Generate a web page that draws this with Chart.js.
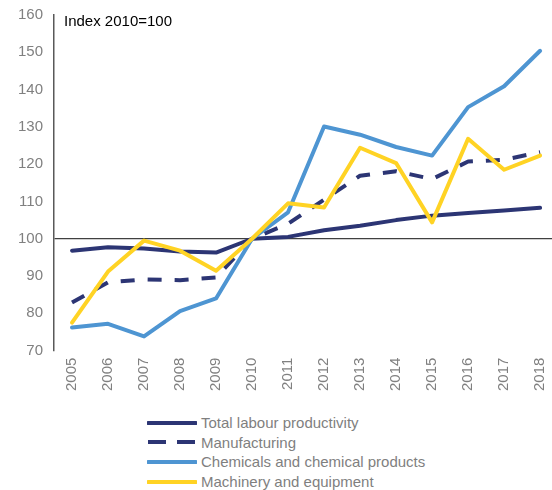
<!DOCTYPE html>
<html>
<head>
<meta charset="utf-8">
<script src="https://cdn.jsdelivr.net/npm/chart.js@4.4.0/dist/chart.umd.min.js"></script>
<style>
    body { margin: 0; background: #fff; font-family: "Liberation Sans", Arial, sans-serif; }
    #wrap { position: relative; width: 552px; height: 490px; }
    #box { position: absolute; left: 0; top: 0; width: 552px; height: 398px; }
    #note { position: absolute; left: 64px; top: 12px; font-size: 15px; color: #000; }
    #legend { position: absolute; left: 147px; top: 413px; }
    .row { height: 19.6px; display: flex; align-items: center; font-size: 15px; color: #7f7f7f; white-space: nowrap; }
    .row svg { margin-right: 4px; }
</style>
</head>
<body>
<div id="wrap">
    <div id="box"><canvas id="chart"></canvas></div>
    <div id="note">Index 2010=100</div>
    <div id="legend"></div>
</div>
<script>
var years = [2005, 2006, 2007, 2008, 2009, 2010, 2011, 2012, 2013, 2014, 2015, 2016, 2017, 2018];
var totalLabour = [96.8, 97.7, 97.4, 96.6, 96.3, 100, 100.5, 102.3, 103.5, 105.0, 106.2, 106.9, 107.6, 108.3];
var manufacturing = [82.9, 88.3, 89.1, 88.9, 89.6, 100, 104.0, 110.5, 116.9, 118.1, 116.0, 120.7, 121.2, 123.2];
var chemicals = [76.2, 77.2, 73.8, 80.6, 84.0, 100, 107.1, 130.1, 127.9, 124.6, 122.3, 135.3, 140.9, 150.4];
var machinery = [77.5, 91.2, 99.5, 96.8, 91.4, 100, 109.5, 108.4, 124.4, 120.3, 104.4, 126.8, 118.5, 122.3];
var yMin = 70, yMax = 160, yStep = 10;

var toPoints = function (values) {
    return values.map(function (v, i) { return { x: years[i], y: v }; });
};

var series = [
    { label: 'Total labour productivity', data: totalLabour, color: '#2c3574', dash: [], order: 4 },
    { label: 'Manufacturing', data: manufacturing, color: '#2c3574', dash: [14, 13], order: 3 },
    { label: 'Chemicals and chemical products', data: chemicals, color: '#4e95d2', dash: [], order: 2 },
    { label: 'Machinery and equipment', data: machinery, color: '#ffd324', dash: [], order: 1 }
];

var datasets = series.map(function (s) {
    return {
        label: s.label,
        data: toPoints(s.data),
        borderColor: s.color,
        backgroundColor: s.color,
        borderWidth: 4,
        borderDash: s.dash,
        borderCapStyle: s.dash.length ? 'butt' : 'round',
        borderJoinStyle: 'round',
        pointRadius: 0,
        tension: 0,
        order: s.order
    };
});

var grey = '#808080';
var tickFont = { family: '"Liberation Sans", Arial, sans-serif', size: 15 };

new Chart(document.getElementById('chart'), {
    type: 'line',
    data: { datasets: datasets },
    options: {
        responsive: true,
        maintainAspectRatio: false,
        animation: false,
        layout: { padding: { left: 18, top: 15, right: 0, bottom: 0 } },
        plugins: { legend: { display: false }, tooltip: { enabled: false } },
        scales: {
            x: {
                type: 'linear',
                min: 2004.5,
                max: 2018.33,
                afterBuildTicks: function (scale) {
                    scale.ticks = years.map(function (y) { return { value: y }; });
                },
                afterFit: function (scale) {
                    scale.paddingLeft = 0;
                    scale.paddingRight = 0;
                },
                ticks: {
                    color: grey,
                    font: tickFont,
                    minRotation: 90,
                    maxRotation: 90,
                    padding: 7,
                    autoSkip: false,
                    callback: function (value) { return String(value); }
                },
                grid: { display: false, drawTicks: false },
                border: { display: false }
            },
            y: {
                min: yMin,
                max: yMax,
                afterFit: function (scale) {
                    scale.width = 36;
                    scale.paddingTop = 0;
                    scale.paddingBottom = 0;
                },
                ticks: { stepSize: yStep, color: grey, font: tickFont, padding: 11 },
                grid: {
                    drawTicks: false,
                    color: function (ctx) { return ctx.tick && ctx.tick.value === 100 ? '#404040' : 'rgba(0,0,0,0)'; },
                    lineWidth: 1.2
                },
                border: { display: true, color: '#595959', width: 1.5 }
            }
        }
    }
});

// legend, one entry per row
var legend = document.getElementById('legend');
series.forEach(function (s) {
    var row = document.createElement('div');
    row.className = 'row';
    var dashAttr = s.dash.length ? ' stroke-dasharray="18 11"' : '';
    row.innerHTML = '<svg width="50" height="8"><line x1="1" y1="4" x2="49" y2="4" stroke="' + s.color +
        '" stroke-width="4"' + dashAttr + (s.dash.length ? '' : ' stroke-linecap="round"') + '/></svg>';
    var span = document.createElement('span');
    span.textContent = s.label;
    row.appendChild(span);
    legend.appendChild(row);
});
</script>
</body>
</html>
